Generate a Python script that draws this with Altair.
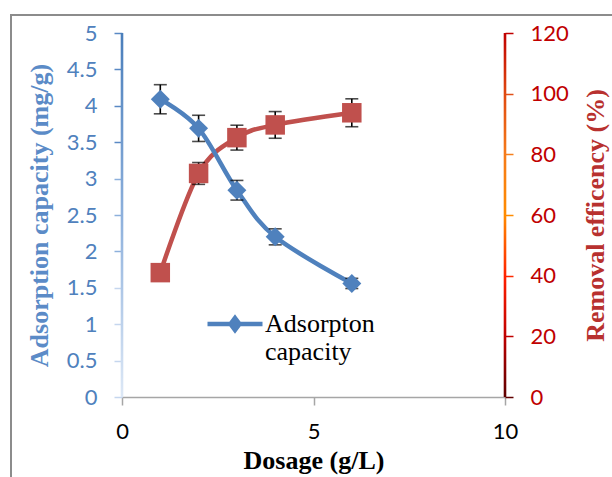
import altair as alt
import pandas as pd

# ---- data ----
dosage = [1, 2, 3, 4, 6]
capacity = [4.09, 3.69, 2.84, 2.20, 1.56]
capacity_err = [0.20, 0.18, 0.135, 0.11, 0.07]
removal = [41.0, 73.7, 85.5, 89.7, 93.7]
removal_err = [2.0, 3.6, 4.1, 4.4, 4.6]
x_ticks = [0, 5, 10]
cap_ticks = [0, 0.5, 1, 1.5, 2, 2.5, 3, 3.5, 4, 4.5, 5]
rem_ticks = [0, 20, 40, 60, 80, 100, 120]
series_name = "Adsorpton capacity"

BLUE = "#4F81BD"
RED = "#C0504D"
TICK_FONT = "Lato"
SERIF = "Liberation Serif"

df = pd.DataFrame({
    "dosage": dosage,
    "capacity": capacity,
    "cap_lo": [c - e for c, e in zip(capacity, capacity_err)],
    "cap_hi": [c + e for c, e in zip(capacity, capacity_err)],
    "removal": removal,
    "rem_lo": [r - e for r, e in zip(removal, removal_err)],
    "rem_hi": [r + e for r, e in zip(removal, removal_err)],
    "series": [series_name] * len(dosage),
})

left_line_df = pd.DataFrame({"x": [x_ticks[0]], "lo": [cap_ticks[0]], "hi": [cap_ticks[-1]]})
right_line_df = pd.DataFrame({"x": [x_ticks[-1]], "lo": [rem_ticks[0]], "hi": [rem_ticks[-1]]})
frame_df = pd.DataFrame({"k": [0]})

x_scale = alt.Scale(domain=[x_ticks[0], x_ticks[-1]], nice=False)
x_axis = alt.Axis(
    values=x_ticks, title="Dosage (g/L)", grid=False, labelFlush=False,
    domainColor="#A6A6A6", domainWidth=1.5, tickColor="#A6A6A6", tickWidth=1.5, tickSize=8,
    labelFont=TICK_FONT, labelFontSize=22, labelColor="#000000", labelPadding=16,
    titleFont=SERIF, titleFontSize=26, titleFontWeight="bold", titleColor="#000000",
    titlePadding=5,
)

cap_scale = alt.Scale(domain=[cap_ticks[0], cap_ticks[-1]], nice=False)
cap_axis = alt.Axis(
    orient="left", values=cap_ticks, format="~g", title="Adsorption capacity (mg/g)", grid=False,
    domain=False, tickSize=8, tickWidth=1.5,
    tickColor={"condition": [
        {"test": "datum.value >= 3.5", "value": "#5A89C4"},
        {"test": "datum.value >= 2", "value": "#8DB0DC"},
    ], "value": "#C5D6EE"},
    labelFont=TICK_FONT, labelFontSize=22, labelColor=BLUE, labelPadding=17,
    titleFont=SERIF, titleFontSize=26, titleFontWeight="bold", titleColor="#5B8BC7",
    titlePadding=14,
)

rem_scale = alt.Scale(domain=[rem_ticks[0], rem_ticks[-1]], nice=False)
rem_axis = alt.Axis(
    orient="right", values=rem_ticks, title="Removal efficency (%)", grid=False,
    domain=False, tickSize=8, tickWidth=1.5,
    tickColor={"condition": [
        {"test": "datum.value >= 120", "value": "#C00000"},
        {"test": "datum.value >= 100", "value": "#E0501A"},
        {"test": "datum.value >= 80", "value": "#F5801E"},
        {"test": "datum.value >= 60", "value": "#FF8C00"},
        {"test": "datum.value >= 40", "value": "#FF2A00"},
        {"test": "datum.value >= 20", "value": "#C00000"},
    ], "value": "#600000"},
    labelFont=TICK_FONT, labelFontSize=22, labelColor="#C00000", labelPadding=17,
    titleFont=SERIF, titleFontSize=26, titleFontWeight="bold", titleColor="#B8312F",
    titleAngle=270, titlePadding=40,
)

X = alt.X("dosage:Q", scale=x_scale, axis=x_axis)

# ---- right axis (removal efficiency) ----
right_grad = alt.LinearGradient(
    gradient="linear", x1=0, x2=0, y1=0, y2=1,
    stops=[
        alt.GradientStop(offset=0, color="#C00000"),
        alt.GradientStop(offset=0.17, color="#E04A10"),
        alt.GradientStop(offset=0.33, color="#F57A1A"),
        alt.GradientStop(offset=0.5, color="#FF8C00"),
        alt.GradientStop(offset=0.67, color="#FF2000"),
        alt.GradientStop(offset=0.83, color="#C00000"),
        alt.GradientStop(offset=1, color="#5C0000"),
    ],
)
red_axisline = alt.Chart(right_line_df).mark_rect(fill=right_grad, xOffset=-1.3, x2Offset=1.3).encode(
    x=alt.X("x:Q", scale=x_scale, axis=x_axis), x2="x:Q",
    y=alt.Y("lo:Q", scale=rem_scale, axis=rem_axis), y2="hi:Q",
)
red_base = alt.Chart(df)
red_line = red_base.mark_line(color=RED, strokeWidth=4.5, interpolate="cardinal", tension=0).encode(
    x=X, y=alt.Y("removal:Q", scale=rem_scale, axis=rem_axis)
)
red_rule = red_base.mark_rule(color="black", strokeWidth=1.6).encode(
    x=X, y=alt.Y("rem_lo:Q", scale=rem_scale, axis=rem_axis), y2="rem_hi:Q"
)
red_cap_lo = red_base.mark_tick(orient="horizontal", size=13, thickness=1.6, color="black").encode(
    x=X, y=alt.Y("rem_lo:Q", scale=rem_scale, axis=rem_axis)
)
red_cap_hi = red_base.mark_tick(orient="horizontal", size=13, thickness=1.6, color="black").encode(
    x=X, y=alt.Y("rem_hi:Q", scale=rem_scale, axis=rem_axis)
)
red_pts = red_base.mark_square(size=380, color=RED, opacity=1).encode(
    x=X, y=alt.Y("removal:Q", scale=rem_scale, axis=rem_axis)
)
red_layer = alt.layer(red_axisline, red_line, red_rule, red_cap_lo, red_cap_hi, red_pts)

# ---- left axis (adsorption capacity) ----
left_grad = alt.LinearGradient(
    gradient="linear", x1=0, x2=0, y1=0, y2=1,
    stops=[
        alt.GradientStop(offset=0, color="#4A7EBB"),
        alt.GradientStop(offset=0.5, color="#8DB0DC"),
        alt.GradientStop(offset=1, color="#DDE8F6"),
    ],
)
blue_axisline = alt.Chart(left_line_df).mark_rect(fill=left_grad, xOffset=-1.3, x2Offset=1.3).encode(
    x=alt.X("x:Q", scale=x_scale, axis=x_axis), x2="x:Q",
    y=alt.Y("lo:Q", scale=cap_scale, axis=cap_axis), y2="hi:Q",
)
blue_base = alt.Chart(df)
blue_line = blue_base.mark_line(color=BLUE, strokeWidth=4.5, interpolate="cardinal", tension=0).encode(
    x=X, y=alt.Y("capacity:Q", scale=cap_scale, axis=cap_axis)
)
blue_rule = blue_base.mark_rule(color="black", strokeWidth=1.6).encode(
    x=X, y=alt.Y("cap_lo:Q", scale=cap_scale, axis=cap_axis), y2="cap_hi:Q"
)
blue_cap_lo = blue_base.mark_tick(orient="horizontal", size=13, thickness=1.6, color="black").encode(
    x=X, y=alt.Y("cap_lo:Q", scale=cap_scale, axis=cap_axis)
)
blue_cap_hi = blue_base.mark_tick(orient="horizontal", size=13, thickness=1.6, color="black").encode(
    x=X, y=alt.Y("cap_hi:Q", scale=cap_scale, axis=cap_axis)
)
blue_pts = blue_base.mark_point(shape="diamond", filled=True, size=360, opacity=1).encode(
    x=X, y=alt.Y("capacity:Q", scale=cap_scale, axis=cap_axis),
    color=alt.Color(
        "series:N",
        scale=alt.Scale(domain=[series_name], range=[BLUE]),
        legend=alt.Legend(
            title=None, orient="none", legendX=100, legendY=278, padding=0,
            symbolType="M-2.75,0L2.75,0M0,-0.6L0.45,0L0,0.6L-0.45,0Z",
            symbolSize=400, symbolStrokeWidth=4.5, symbolStrokeColor=BLUE, symbolFillColor=BLUE,
            labelExpr="['Adsorpton', 'capacity']",
            labelFont=SERIF, labelFontSize=26, labelColor="#000000", labelOffset=17,
            labelLimit=400,
        ),
    ),
)
blue_layer = alt.layer(blue_axisline, blue_line, blue_rule, blue_cap_lo, blue_cap_hi, blue_pts)

# ---- outer chart border ----
frame = alt.Chart(frame_df).mark_rect(fill="transparent", stroke="#8C8C8C", strokeWidth=2).encode(
    x=alt.value(-111), x2=alt.value(520), y=alt.value(-18), y2=alt.value(470)
)

chart = alt.layer(frame, red_layer, blue_layer).resolve_scale(y="independent").properties(
    width=383, height=364,
    autosize=alt.AutoSizeParams(type="none"),
    padding={"left": 122, "top": 33, "right": 107, "bottom": 80},
    background="white",
).configure_view(stroke=None)

chart.save("out.html", embed_options={"renderer": "svg", "actions": False})
